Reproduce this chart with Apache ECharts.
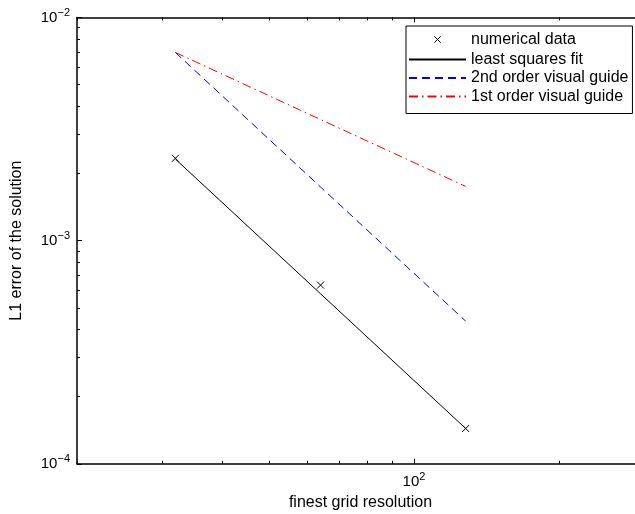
<!DOCTYPE html>
<html><head><meta charset="utf-8">
<script src="https://cdn.jsdelivr.net/npm/echarts@6/dist/echarts.min.js"></script>
<style>html,body{margin:0;padding:0;background:#fff;overflow:hidden;width:635px;height:514px}#c{width:660px;height:514px}</style>
</head><body><div id="c"></div>
<script>
// ---- data ----
const gridRes = [32, 64, 128];
const numericalError = [2.34e-3, 6.32e-4, 1.44e-4];
const fitError = [2.32e-3, 5.78e-4, 1.44e-4];
const secondOrderGuide = [6.97e-3, 1.74e-3, 4.36e-4];
const firstOrderGuide = [6.97e-3, 3.49e-3, 1.75e-3];
const seriesNames = ['numerical data', 'least squares fit', '2nd order visual guide', '1st order visual guide'];
const xMajorTicks = [100];
const xMinorTicks = [20, 30, 40, 50, 60, 70, 80, 90, 200, 300];
const yMajorTicks = [1e-4, 1e-3, 1e-2];
const yMinorTicks = [2e-4, 3e-4, 4e-4, 5e-4, 6e-4, 7e-4, 8e-4, 9e-4, 2e-3, 3e-3, 4e-3, 5e-3, 6e-3, 7e-3, 8e-3, 9e-3];
const xTitle = 'finest grid resolution';
const yTitle = 'L1 error of the solution';

const FONT = 'Liberation Sans, Arial, Helvetica, sans-serif';
const X_MIN = 20, X_MAX = 300, Y_MIN = 1e-4, Y_MAX = 1e-2;

function pairs(xs, ys) { return xs.map((x, i) => [x, ys[i]]); }
function powLabel(v) {
  const e = Math.round(Math.log10(v));
  return '{b|10}{s|' + (e < 0 ? '\u2212' + (-e) : String(e)) + '}';
}
const rich = {
  b: { fontSize: 15, fontFamily: FONT, color: '#000' },
  s: { fontSize: 11, fontFamily: FONT, color: '#000', padding: [0, 0, 10, 0] }
};
const COL = '#000';

function xAx(pos, ticks, len, showLine, labels) {
  return {
    type: 'log', logBase: 10, min: X_MIN, max: X_MAX, position: pos,
    axisLine: { show: showLine, onZero: false, lineStyle: { color: COL, width: 1.5 } },
    axisTick: { show: true, inside: true, length: len, customValues: ticks, lineStyle: { color: COL, width: 1 } },
    axisLabel: labels ? { show: true, customValues: xMajorTicks, formatter: powLabel, rich: rich, margin: 8 } : { show: false },
    splitLine: { show: false }, minorTick: { show: false }
  };
}
function yAx(pos, ticks, len, showLine, labels) {
  return {
    type: 'log', logBase: 10, min: Y_MIN, max: Y_MAX, position: pos,
    axisLine: { show: showLine, onZero: false, lineStyle: { color: COL, width: 1.5 } },
    axisTick: { show: true, inside: true, length: len, customValues: ticks, lineStyle: { color: COL, width: 1 } },
    axisLabel: labels ? { show: true, customValues: yMajorTicks, formatter: powLabel, rich: rich, margin: 7 } : { show: false },
    splitLine: { show: false }, minorTick: { show: false }
  };
}

const xAxes = [xAx('bottom', xMajorTicks, 5, true, true), xAx('bottom', xMinorTicks, 3, false, false),
               xAx('top', xMajorTicks, 5, true, false), xAx('top', xMinorTicks, 3, false, false)];
Object.assign(xAxes[0], { name: xTitle, nameLocation: 'middle', nameGap: 29,
  nameTextStyle: { fontSize: 16, fontFamily: FONT, color: '#000' } });
const yAxes = [yAx('left', yMajorTicks, 5, true, true), yAx('left', yMinorTicks, 3, false, false)];
Object.assign(yAxes[0], { name: yTitle, nameLocation: 'middle', nameGap: 52,
  nameTextStyle: { fontSize: 16, fontFamily: FONT, color: '#000' } });

const hideSym = { opacity: 0 };
const chart = echarts.init(document.getElementById('c'), null, { renderer: 'canvas' });
chart.setOption({
  animation: false,
  backgroundColor: '#fff',
  grid: { left: 77, top: 17.5, width: 567, height: 446.3, containLabel: false, outerBoundsMode: 'none', show: false },
  xAxis: xAxes,
  yAxis: yAxes,
  legend: {
    orient: 'vertical', left: 406, top: 26,
    backgroundColor: '#fff', borderColor: '#000', borderWidth: 1,
    padding: [4, 4, 9, 2], itemWidth: 57, itemHeight: 14, itemGap: 2.5, itemTextGap: 4,
    textStyle: { fontSize: 16, fontFamily: FONT, color: '#000' },
    data: [
      { name: seriesNames[0], icon: 'path://M0,0L10,10M10,0L0,10M-6,-6M16,16',
        itemStyle: { color: 'none', borderColor: '#000', borderWidth: 1 } },
      { name: seriesNames[1], itemStyle: hideSym },
      { name: seriesNames[2], itemStyle: hideSym },
      { name: seriesNames[3], itemStyle: hideSym }
    ]
  },
  series: [
    { name: seriesNames[0], type: 'line', data: pairs(gridRes, numericalError),
      symbol: 'path://M0,0L10,10M10,0L0,10', symbolSize: 7,
      itemStyle: { color: 'none', borderColor: '#000', borderWidth: 1 },
      lineStyle: { width: 0, opacity: 0 }, z: 5 },
    { name: seriesNames[1], type: 'line', data: pairs(gridRes, fitError), symbol: 'none',
      itemStyle: { color: '#000' }, lineStyle: { color: '#000', width: 1 } },
    { name: seriesNames[2], type: 'line', data: pairs(gridRes, secondOrderGuide), symbol: 'none',
      itemStyle: { color: '#0000ff' }, lineStyle: { color: '#0000ff', width: 1, type: [8, 5] } },
    { name: seriesNames[3], type: 'line', data: pairs(gridRes, firstOrderGuide), symbol: 'none',
      itemStyle: { color: '#ff0000' }, lineStyle: { color: '#ff0000', width: 1, type: [9, 4, 1.5, 4] } }
  ]
});
</script></body></html>
